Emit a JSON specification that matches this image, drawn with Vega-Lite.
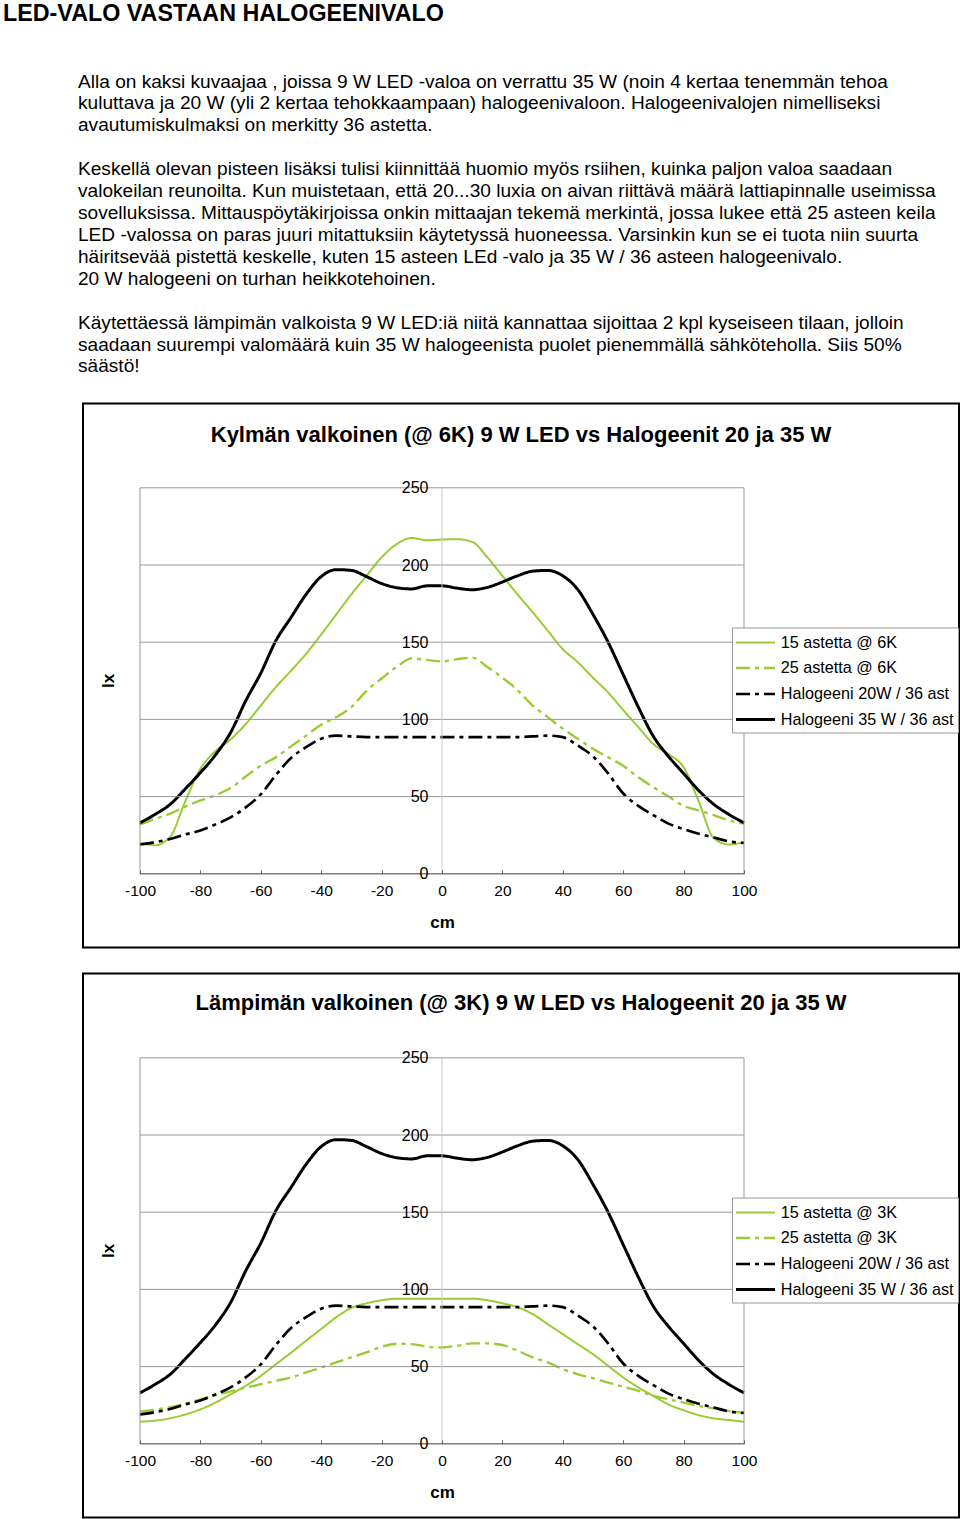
{
  "$schema": "https://vega.github.io/schema/vega-lite/v6.json",
  "padding": {"left": 3, "top": 1.5, "right": 0, "bottom": 0},
  "background": "white",
  "config": {"font": "Liberation Sans", "view": {"stroke": null}},
  "datasets": {
    "c1": [
      {"x": -100, "15 astetta @ 6K": 20, "25 astetta @ 6K": 32, "Halogeeni 20W / 36 ast": 19, "Halogeeni 35 W / 36 ast": 33},
      {"x": -95, "15 astetta @ 6K": 18.5, "25 astetta @ 6K": 35.5, "Halogeeni 20W / 36 ast": 20.5, "Halogeeni 35 W / 36 ast": 38.5},
      {"x": -90, "15 astetta @ 6K": 24, "25 astetta @ 6K": 39, "Halogeeni 20W / 36 ast": 22.5, "Halogeeni 35 W / 36 ast": 45},
      {"x": -85, "15 astetta @ 6K": 47, "25 astetta @ 6K": 43.5, "Halogeeni 20W / 36 ast": 25.5, "Halogeeni 35 W / 36 ast": 55},
      {"x": -80, "15 astetta @ 6K": 68, "25 astetta @ 6K": 47.5, "Halogeeni 20W / 36 ast": 28, "Halogeeni 35 W / 36 ast": 65.5},
      {"x": -75, "15 astetta @ 6K": 79.5, "25 astetta @ 6K": 51, "Halogeeni 20W / 36 ast": 32, "Halogeeni 35 W / 36 ast": 77},
      {"x": -70, "15 astetta @ 6K": 87, "25 astetta @ 6K": 55.5, "Halogeeni 20W / 36 ast": 36.5, "Halogeeni 35 W / 36 ast": 91.5},
      {"x": -65, "15 astetta @ 6K": 97, "25 astetta @ 6K": 63, "Halogeeni 20W / 36 ast": 43, "Halogeeni 35 W / 36 ast": 112},
      {"x": -60, "15 astetta @ 6K": 109, "25 astetta @ 6K": 70, "Halogeeni 20W / 36 ast": 51.5, "Halogeeni 35 W / 36 ast": 130},
      {"x": -55, "15 astetta @ 6K": 121, "25 astetta @ 6K": 75.5, "Halogeeni 20W / 36 ast": 64, "Halogeeni 35 W / 36 ast": 151},
      {"x": -50, "15 astetta @ 6K": 131.5, "25 astetta @ 6K": 82.5, "Halogeeni 20W / 36 ast": 75, "Halogeeni 35 W / 36 ast": 166},
      {"x": -45, "15 astetta @ 6K": 142.5, "25 astetta @ 6K": 89.5, "Halogeeni 20W / 36 ast": 82, "Halogeeni 35 W / 36 ast": 181},
      {"x": -40, "15 astetta @ 6K": 155, "25 astetta @ 6K": 96.5, "Halogeeni 20W / 36 ast": 87.5, "Halogeeni 35 W / 36 ast": 192.5},
      {"x": -35, "15 astetta @ 6K": 168, "25 astetta @ 6K": 101.5, "Halogeeni 20W / 36 ast": 89.5, "Halogeeni 35 W / 36 ast": 197},
      {"x": -30, "15 astetta @ 6K": 181, "25 astetta @ 6K": 108, "Halogeeni 20W / 36 ast": 89, "Halogeeni 35 W / 36 ast": 196.5},
      {"x": -25, "15 astetta @ 6K": 193, "25 astetta @ 6K": 118.5, "Halogeeni 20W / 36 ast": 88.5, "Halogeeni 35 W / 36 ast": 192.5},
      {"x": -20, "15 astetta @ 6K": 205, "25 astetta @ 6K": 126.5, "Halogeeni 20W / 36 ast": 88.5, "Halogeeni 35 W / 36 ast": 188},
      {"x": -15, "15 astetta @ 6K": 213.5, "25 astetta @ 6K": 134, "Halogeeni 20W / 36 ast": 88.5, "Halogeeni 35 W / 36 ast": 185.3},
      {"x": -10, "15 astetta @ 6K": 217.5, "25 astetta @ 6K": 139.5, "Halogeeni 20W / 36 ast": 88.5, "Halogeeni 35 W / 36 ast": 184.5},
      {"x": -5, "15 astetta @ 6K": 216, "25 astetta @ 6K": 138.5, "Halogeeni 20W / 36 ast": 88.5, "Halogeeni 35 W / 36 ast": 186.5},
      {"x": 0, "15 astetta @ 6K": 216.5, "25 astetta @ 6K": 137.5, "Halogeeni 20W / 36 ast": 88.5, "Halogeeni 35 W / 36 ast": 186.5},
      {"x": 5, "15 astetta @ 6K": 216.7, "25 astetta @ 6K": 139, "Halogeeni 20W / 36 ast": 88.5, "Halogeeni 35 W / 36 ast": 185},
      {"x": 10, "15 astetta @ 6K": 215, "25 astetta @ 6K": 140, "Halogeeni 20W / 36 ast": 88.5, "Halogeeni 35 W / 36 ast": 184},
      {"x": 15, "15 astetta @ 6K": 205, "25 astetta @ 6K": 134, "Halogeeni 20W / 36 ast": 88.5, "Halogeeni 35 W / 36 ast": 185.5},
      {"x": 20, "15 astetta @ 6K": 193, "25 astetta @ 6K": 127, "Halogeeni 20W / 36 ast": 88.5, "Halogeeni 35 W / 36 ast": 189},
      {"x": 25, "15 astetta @ 6K": 181, "25 astetta @ 6K": 119, "Halogeeni 20W / 36 ast": 88.5, "Halogeeni 35 W / 36 ast": 193},
      {"x": 30, "15 astetta @ 6K": 169.5, "25 astetta @ 6K": 109, "Halogeeni 20W / 36 ast": 89, "Halogeeni 35 W / 36 ast": 196},
      {"x": 35, "15 astetta @ 6K": 157.5, "25 astetta @ 6K": 101.5, "Halogeeni 20W / 36 ast": 89.5, "Halogeeni 35 W / 36 ast": 196.5},
      {"x": 40, "15 astetta @ 6K": 145.5, "25 astetta @ 6K": 94, "Halogeeni 20W / 36 ast": 88.5, "Halogeeni 35 W / 36 ast": 193},
      {"x": 45, "15 astetta @ 6K": 137, "25 astetta @ 6K": 87.5, "Halogeeni 20W / 36 ast": 83, "Halogeeni 35 W / 36 ast": 184},
      {"x": 50, "15 astetta @ 6K": 127, "25 astetta @ 6K": 81, "Halogeeni 20W / 36 ast": 76, "Halogeeni 35 W / 36 ast": 168},
      {"x": 55, "15 astetta @ 6K": 117.5, "25 astetta @ 6K": 75.5, "Halogeeni 20W / 36 ast": 65, "Halogeeni 35 W / 36 ast": 150},
      {"x": 60, "15 astetta @ 6K": 106, "25 astetta @ 6K": 70, "Halogeeni 20W / 36 ast": 52, "Halogeeni 35 W / 36 ast": 129},
      {"x": 65, "15 astetta @ 6K": 95, "25 astetta @ 6K": 62.5, "Halogeeni 20W / 36 ast": 44, "Halogeeni 35 W / 36 ast": 108},
      {"x": 70, "15 astetta @ 6K": 84, "25 astetta @ 6K": 56, "Halogeeni 20W / 36 ast": 38, "Halogeeni 35 W / 36 ast": 89},
      {"x": 75, "15 astetta @ 6K": 77.5, "25 astetta @ 6K": 50, "Halogeeni 20W / 36 ast": 32.5, "Halogeeni 35 W / 36 ast": 76},
      {"x": 80, "15 astetta @ 6K": 69, "25 astetta @ 6K": 44, "Halogeeni 20W / 36 ast": 29, "Halogeeni 35 W / 36 ast": 65},
      {"x": 85, "15 astetta @ 6K": 47, "25 astetta @ 6K": 41, "Halogeeni 20W / 36 ast": 26, "Halogeeni 35 W / 36 ast": 54},
      {"x": 90, "15 astetta @ 6K": 23, "25 astetta @ 6K": 38, "Halogeeni 20W / 36 ast": 23.5, "Halogeeni 35 W / 36 ast": 45},
      {"x": 95, "15 astetta @ 6K": 19, "25 astetta @ 6K": 34.5, "Halogeeni 20W / 36 ast": 21, "Halogeeni 35 W / 36 ast": 38.5},
      {"x": 100, "15 astetta @ 6K": 20.5, "25 astetta @ 6K": 32.5, "Halogeeni 20W / 36 ast": 20, "Halogeeni 35 W / 36 ast": 33}
    ],
    "c2": [
      {"x": -100, "15 astetta @ 3K": 14.3, "25 astetta @ 3K": 20.8, "Halogeeni 20W / 36 ast": 19, "Halogeeni 35 W / 36 ast": 33},
      {"x": -95, "15 astetta @ 3K": 15, "25 astetta @ 3K": 22, "Halogeeni 20W / 36 ast": 20.5, "Halogeeni 35 W / 36 ast": 38.5},
      {"x": -90, "15 astetta @ 3K": 16.5, "25 astetta @ 3K": 23.8, "Halogeeni 20W / 36 ast": 22.5, "Halogeeni 35 W / 36 ast": 45},
      {"x": -85, "15 astetta @ 3K": 19, "25 astetta @ 3K": 26, "Halogeeni 20W / 36 ast": 25.5, "Halogeeni 35 W / 36 ast": 55},
      {"x": -80, "15 astetta @ 3K": 22.3, "25 astetta @ 3K": 28.8, "Halogeeni 20W / 36 ast": 28, "Halogeeni 35 W / 36 ast": 65.5},
      {"x": -75, "15 astetta @ 3K": 26.7, "25 astetta @ 3K": 31.4, "Halogeeni 20W / 36 ast": 32, "Halogeeni 35 W / 36 ast": 77},
      {"x": -70, "15 astetta @ 3K": 32, "25 astetta @ 3K": 34, "Halogeeni 20W / 36 ast": 36.5, "Halogeeni 35 W / 36 ast": 91.5},
      {"x": -65, "15 astetta @ 3K": 37.5, "25 astetta @ 3K": 36.4, "Halogeeni 20W / 36 ast": 43, "Halogeeni 35 W / 36 ast": 112},
      {"x": -60, "15 astetta @ 3K": 44, "25 astetta @ 3K": 38.6, "Halogeeni 20W / 36 ast": 51.5, "Halogeeni 35 W / 36 ast": 130},
      {"x": -55, "15 astetta @ 3K": 51.5, "25 astetta @ 3K": 40.8, "Halogeeni 20W / 36 ast": 64, "Halogeeni 35 W / 36 ast": 151},
      {"x": -50, "15 astetta @ 3K": 59, "25 astetta @ 3K": 43, "Halogeeni 20W / 36 ast": 75, "Halogeeni 35 W / 36 ast": 166},
      {"x": -45, "15 astetta @ 3K": 66.8, "25 astetta @ 3K": 46.2, "Halogeeni 20W / 36 ast": 82, "Halogeeni 35 W / 36 ast": 181},
      {"x": -40, "15 astetta @ 3K": 74.4, "25 astetta @ 3K": 49.4, "Halogeeni 20W / 36 ast": 87.5, "Halogeeni 35 W / 36 ast": 192.5},
      {"x": -35, "15 astetta @ 3K": 82, "25 astetta @ 3K": 52.7, "Halogeeni 20W / 36 ast": 89.5, "Halogeeni 35 W / 36 ast": 197},
      {"x": -30, "15 astetta @ 3K": 88, "25 astetta @ 3K": 56, "Halogeeni 20W / 36 ast": 89, "Halogeeni 35 W / 36 ast": 196.5},
      {"x": -25, "15 astetta @ 3K": 91, "25 astetta @ 3K": 59.2, "Halogeeni 20W / 36 ast": 88.5, "Halogeeni 35 W / 36 ast": 192.5},
      {"x": -20, "15 astetta @ 3K": 93, "25 astetta @ 3K": 62.9, "Halogeeni 20W / 36 ast": 88.5, "Halogeeni 35 W / 36 ast": 188},
      {"x": -15, "15 astetta @ 3K": 94, "25 astetta @ 3K": 64.8, "Halogeeni 20W / 36 ast": 88.5, "Halogeeni 35 W / 36 ast": 185.3},
      {"x": -10, "15 astetta @ 3K": 94, "25 astetta @ 3K": 64.6, "Halogeeni 20W / 36 ast": 88.5, "Halogeeni 35 W / 36 ast": 184.5},
      {"x": -5, "15 astetta @ 3K": 94, "25 astetta @ 3K": 63, "Halogeeni 20W / 36 ast": 88.5, "Halogeeni 35 W / 36 ast": 186.5},
      {"x": 0, "15 astetta @ 3K": 94, "25 astetta @ 3K": 62.4, "Halogeeni 20W / 36 ast": 88.5, "Halogeeni 35 W / 36 ast": 186.5},
      {"x": 5, "15 astetta @ 3K": 94, "25 astetta @ 3K": 63.5, "Halogeeni 20W / 36 ast": 88.5, "Halogeeni 35 W / 36 ast": 185},
      {"x": 10, "15 astetta @ 3K": 94, "25 astetta @ 3K": 65, "Halogeeni 20W / 36 ast": 88.5, "Halogeeni 35 W / 36 ast": 184},
      {"x": 15, "15 astetta @ 3K": 93, "25 astetta @ 3K": 65, "Halogeeni 20W / 36 ast": 88.5, "Halogeeni 35 W / 36 ast": 185.5},
      {"x": 20, "15 astetta @ 3K": 91, "25 astetta @ 3K": 64, "Halogeeni 20W / 36 ast": 88.5, "Halogeeni 35 W / 36 ast": 189},
      {"x": 25, "15 astetta @ 3K": 88.5, "25 astetta @ 3K": 60.3, "Halogeeni 20W / 36 ast": 88.5, "Halogeeni 35 W / 36 ast": 193},
      {"x": 30, "15 astetta @ 3K": 84, "25 astetta @ 3K": 56, "Halogeeni 20W / 36 ast": 89, "Halogeeni 35 W / 36 ast": 196},
      {"x": 35, "15 astetta @ 3K": 77.5, "25 astetta @ 3K": 52.7, "Halogeeni 20W / 36 ast": 89.5, "Halogeeni 35 W / 36 ast": 196.5},
      {"x": 40, "15 astetta @ 3K": 71, "25 astetta @ 3K": 48.4, "Halogeeni 20W / 36 ast": 88.5, "Halogeeni 35 W / 36 ast": 193},
      {"x": 45, "15 astetta @ 3K": 64.5, "25 astetta @ 3K": 45, "Halogeeni 20W / 36 ast": 83, "Halogeeni 35 W / 36 ast": 184},
      {"x": 50, "15 astetta @ 3K": 58, "25 astetta @ 3K": 42.5, "Halogeeni 20W / 36 ast": 76, "Halogeeni 35 W / 36 ast": 168},
      {"x": 55, "15 astetta @ 3K": 50.5, "25 astetta @ 3K": 39.7, "Halogeeni 20W / 36 ast": 65, "Halogeeni 35 W / 36 ast": 150},
      {"x": 60, "15 astetta @ 3K": 43, "25 astetta @ 3K": 36.9, "Halogeeni 20W / 36 ast": 52, "Halogeeni 35 W / 36 ast": 129},
      {"x": 65, "15 astetta @ 3K": 36.5, "25 astetta @ 3K": 34.3, "Halogeeni 20W / 36 ast": 44, "Halogeeni 35 W / 36 ast": 108},
      {"x": 70, "15 astetta @ 3K": 31, "25 astetta @ 3K": 31, "Halogeeni 20W / 36 ast": 38, "Halogeeni 35 W / 36 ast": 89},
      {"x": 75, "15 astetta @ 3K": 25.5, "25 astetta @ 3K": 28.8, "Halogeeni 20W / 36 ast": 32.5, "Halogeeni 35 W / 36 ast": 76},
      {"x": 80, "15 astetta @ 3K": 21.7, "25 astetta @ 3K": 26.7, "Halogeeni 20W / 36 ast": 29, "Halogeeni 35 W / 36 ast": 65},
      {"x": 85, "15 astetta @ 3K": 18.6, "25 astetta @ 3K": 24.5, "Halogeeni 20W / 36 ast": 26, "Halogeeni 35 W / 36 ast": 54},
      {"x": 90, "15 astetta @ 3K": 16.5, "25 astetta @ 3K": 23, "Halogeeni 20W / 36 ast": 23.5, "Halogeeni 35 W / 36 ast": 45},
      {"x": 95, "15 astetta @ 3K": 15.4, "25 astetta @ 3K": 21.2, "Halogeeni 20W / 36 ast": 21, "Halogeeni 35 W / 36 ast": 38.5},
      {"x": 100, "15 astetta @ 3K": 14.3, "25 astetta @ 3K": 20, "Halogeeni 20W / 36 ast": 20, "Halogeeni 35 W / 36 ast": 33}
    ]
  },
  "bounds": "flush",
  "spacing": 26,
  "resolve": {
    "scale": {"x": "independent", "y": "independent", "color": "independent", "strokeDash": "independent", "strokeWidth": "independent"},
    "axis": {"x": "independent", "y": "independent"},
    "legend": {"color": "independent", "strokeDash": "independent", "strokeWidth": "independent"}
  },
  "vconcat": [
    {
      "width": 876,
      "height": 296,
      "title": {"text": "LED-VALO VASTAAN HALOGEENIVALO", "anchor": "start", "frame": "group", "dx": -80, "offset": 35, "baseline": "middle", "fontSize": 23.3, "fontWeight": "bold", "font": "Liberation Sans", "color": "#000000"},
      "data": {"values": [
        {"n": 0, "t": "Alla on kaksi kuvaajaa , joissa 9 W LED -valoa on verrattu 35 W (noin 4 kertaa tenemmän tehoa"},
        {"n": 1, "t": "kuluttava ja 20 W (yli 2 kertaa tehokkaampaan) halogeenivaloon. Halogeenivalojen nimelliseksi"},
        {"n": 2, "t": "avautumiskulmaksi on merkitty 36 astetta."},
        {"n": 4, "t": "Keskellä olevan pisteen lisäksi tulisi kiinnittää huomio myös rsiihen, kuinka paljon valoa saadaan"},
        {"n": 5, "t": "valokeilan reunoilta. Kun muistetaan, että 20...30 luxia on aivan riittävä määrä lattiapinnalle useimissa"},
        {"n": 6, "t": "sovelluksissa. Mittauspöytäkirjoissa onkin mittaajan tekemä merkintä, jossa lukee että 25 asteen keila"},
        {"n": 7, "t": "LED -valossa on paras juuri mitattuksiin käytetyssä huoneessa. Varsinkin kun se ei tuota niin suurta"},
        {"n": 8, "t": "häiritsevää pistettä keskelle, kuten 15 asteen LEd -valo ja 35 W / 36 asteen halogeenivalo."},
        {"n": 9, "t": "20 W halogeeni on turhan heikkotehoinen."},
        {"n": 11, "t": "Käytettäessä lämpimän valkoista 9 W LED:iä niitä kannattaa sijoittaa 2 kpl kyseiseen tilaan, jolloin"},
        {"n": 12, "t": "saadaan suurempi valomäärä kuin 35 W halogeenista puolet pienemmällä sähköteholla. Siis 50%"},
        {"n": 13, "t": "säästö!"}
      ]},
      "mark": {"type": "text", "align": "left", "baseline": "middle", "fontSize": 19.1, "font": "Liberation Sans", "color": "#000000", "dx": -5},
      "encoding": {
        "x": {"datum": 0, "type": "quantitative", "scale": {"domain": [0, 1], "nice": false, "zero": false}, "axis": null},
        "y": {"field": "n", "type": "quantitative", "scale": {"domain": [0, 13.502], "reverse": true, "nice": false, "zero": false}, "axis": null},
        "text": {"field": "t", "type": "nominal"}
      }
    },
    {
      "width": 876,
      "height": 544,
      "view": {"stroke": "#000000", "strokeWidth": 2, "fill": "white"},
      "title": {"text": "Kylmän valkoinen (@ 6K) 9 W LED vs Halogeenit 20 ja 35 W", "anchor": "middle", "frame": "group", "offset": -53, "baseline": "middle", "fontSize": 22, "fontWeight": "bold", "font": "Liberation Sans", "color": "#000000"},
      "layer": [
        {
          "data": {"name": "c1"},
          "transform": [{"fold": ["15 astetta @ 6K", "25 astetta @ 6K", "Halogeeni 20W / 36 ast", "Halogeeni 35 W / 36 ast"], "as": ["sarja", "lx"]}],
          "mark": {"type": "line", "interpolate": "monotone", "strokeCap": "butt"},
          "encoding": {
            "x": {"field": "x", "type": "quantitative", "scale": {"domain": [-118.87, 171.19], "nice": false, "zero": false},
              "axis": {"orient": "bottom", "offset": -73.7, "values": [-100, -80, -60, -40, -20, 0, 20, 40, 60, 80, 100], "labelExpr": "'' + datum.value", "domain": false, "grid": false, "ticks": true, "tickSize": -4, "tickColor": "#666666", "labelPadding": 14, "labelFontSize": 15.5, "labelFont": "Liberation Sans", "labelColor": "#000000", "labelFlush": false, "labelOverlap": false, "zindex": 1,
                "title": "cm", "titleFontSize": 17, "titleFontWeight": "bold", "titleFont": "Liberation Sans", "titleColor": "#000000", "titleX": 359, "titleY": 49, "titleBaseline": "middle", "titleAlign": "center"}},
            "y": {"field": "lx", "type": "quantitative", "scale": {"domain": [-47.73, 304.6], "nice": false, "zero": false},
              "axis": {"orient": "left", "offset": -359, "values": [0, 50, 100, 150, 200, 250], "domain": false, "grid": false, "ticks": false, "labelPadding": 14, "labelFontSize": 16, "labelFont": "Liberation Sans", "labelColor": "#000000", "labelFlush": false, "labelOverlap": false, "labelBaseline": "middle", "zindex": 1,
                "title": "lx", "titleFontSize": 17, "titleFontWeight": "bold", "titleFont": "Liberation Sans", "titleColor": "#000000", "titleX": -334, "titleY": 277, "titleAngle": -90, "titleBaseline": "middle", "titleAlign": "center"}},
            "color": {"field": "sarja", "type": "nominal",
              "scale": {"domain": ["15 astetta @ 6K", "25 astetta @ 6K", "Halogeeni 20W / 36 ast", "Halogeeni 35 W / 36 ast"], "range": ["#99CC33", "#99CC33", "#000000", "#000000"]},
              "legend": {"orient": "none", "legendX": 649, "legendY": 224, "title": null, "strokeColor": "#999999", "fillColor": "white", "padding": 4, "labelFontSize": 16.2, "labelFont": "Liberation Sans", "labelColor": "#000000", "labelLimit": 300, "labelOffset": 13.75, "symbolOffset": 8, "symbolType": "M-2,0L2,0", "symbolSize": 380.25, "rowPadding": 5.5}},
            "strokeDash": {"field": "sarja", "type": "nominal",
              "scale": {"domain": ["15 astetta @ 6K", "25 astetta @ 6K", "Halogeeni 20W / 36 ast", "Halogeeni 35 W / 36 ast"], "range": [[1, 0], [14, 5, 4, 5], [14, 5, 4, 5], [1, 0]]}},
            "strokeWidth": {"field": "sarja", "type": "nominal",
              "scale": {"domain": ["15 astetta @ 6K", "25 astetta @ 6K", "Halogeeni 20W / 36 ast", "Halogeeni 35 W / 36 ast"], "range": [2, 3, 3, 2]}}
          }
        },
        {
          "data": {"values": [{"a": 1}]},
          "mark": {"type": "rect", "fill": null, "stroke": "#999999", "strokeWidth": 1},
          "encoding": {
            "x": {"datum": -100, "type": "quantitative"}, "x2": {"datum": 100},
            "y": {"datum": 0, "type": "quantitative"}, "y2": {"datum": 250}
          }
        },
        {
          "data": {"values": [{"g": 50}, {"g": 100}, {"g": 150}, {"g": 200}]},
          "mark": {"type": "rule", "color": "#999999", "strokeWidth": 1},
          "encoding": {
            "y": {"field": "g", "type": "quantitative"},
            "x": {"datum": -100, "type": "quantitative"}, "x2": {"datum": 100}
          }
        },
        {
          "data": {"values": [{"a": 1}]},
          "mark": {"type": "rule", "color": "#c8c8c8", "strokeWidth": 1},
          "encoding": {
            "x": {"datum": 0, "type": "quantitative"},
            "y": {"datum": 0, "type": "quantitative"}, "y2": {"datum": 250}
          }
        },
        {
          "data": {"values": [{"a": 1}]},
          "mark": {"type": "rule", "color": "#666666", "strokeWidth": 1},
          "encoding": {
            "y": {"datum": 0, "type": "quantitative"},
            "x": {"datum": -100, "type": "quantitative"}, "x2": {"datum": 100}
          }
        }
      ]
    },
    {
      "width": 876,
      "height": 544,
      "view": {"stroke": "#000000", "strokeWidth": 2, "fill": "white"},
      "title": {"text": "Lämpimän valkoinen (@ 3K) 9 W LED vs Halogeenit 20 ja 35 W", "anchor": "middle", "frame": "group", "offset": -51, "baseline": "middle", "fontSize": 22, "fontWeight": "bold", "font": "Liberation Sans", "color": "#000000"},
      "layer": [
        {
          "data": {"name": "c2"},
          "transform": [{"fold": ["15 astetta @ 3K", "25 astetta @ 3K", "Halogeeni 20W / 36 ast", "Halogeeni 35 W / 36 ast"], "as": ["sarja", "lx"]}],
          "mark": {"type": "line", "interpolate": "monotone", "strokeCap": "butt"},
          "encoding": {
            "x": {"field": "x", "type": "quantitative", "scale": {"domain": [-118.87, 171.19], "nice": false, "zero": false},
              "axis": {"orient": "bottom", "offset": -73.7, "values": [-100, -80, -60, -40, -20, 0, 20, 40, 60, 80, 100], "labelExpr": "'' + datum.value", "domain": false, "grid": false, "ticks": true, "tickSize": -4, "tickColor": "#666666", "labelPadding": 14, "labelFontSize": 15.5, "labelFont": "Liberation Sans", "labelColor": "#000000", "labelFlush": false, "labelOverlap": false, "zindex": 1,
                "title": "cm", "titleFontSize": 17, "titleFontWeight": "bold", "titleFont": "Liberation Sans", "titleColor": "#000000", "titleX": 359, "titleY": 49, "titleBaseline": "middle", "titleAlign": "center"}},
            "y": {"field": "lx", "type": "quantitative", "scale": {"domain": [-47.73, 304.6], "nice": false, "zero": false},
              "axis": {"orient": "left", "offset": -359, "values": [0, 50, 100, 150, 200, 250], "domain": false, "grid": false, "ticks": false, "labelPadding": 14, "labelFontSize": 16, "labelFont": "Liberation Sans", "labelColor": "#000000", "labelFlush": false, "labelOverlap": false, "labelBaseline": "middle", "zindex": 1,
                "title": "lx", "titleFontSize": 17, "titleFontWeight": "bold", "titleFont": "Liberation Sans", "titleColor": "#000000", "titleX": -334, "titleY": 277, "titleAngle": -90, "titleBaseline": "middle", "titleAlign": "center"}},
            "color": {"field": "sarja", "type": "nominal",
              "scale": {"domain": ["15 astetta @ 3K", "25 astetta @ 3K", "Halogeeni 20W / 36 ast", "Halogeeni 35 W / 36 ast"], "range": ["#99CC33", "#99CC33", "#000000", "#000000"]},
              "legend": {"orient": "none", "legendX": 649, "legendY": 224, "title": null, "strokeColor": "#999999", "fillColor": "white", "padding": 4, "labelFontSize": 16.2, "labelFont": "Liberation Sans", "labelColor": "#000000", "labelLimit": 300, "labelOffset": 13.75, "symbolOffset": 8, "symbolType": "M-2,0L2,0", "symbolSize": 380.25, "rowPadding": 5.5}},
            "strokeDash": {"field": "sarja", "type": "nominal",
              "scale": {"domain": ["15 astetta @ 3K", "25 astetta @ 3K", "Halogeeni 20W / 36 ast", "Halogeeni 35 W / 36 ast"], "range": [[1, 0], [14, 5, 4, 5], [14, 5, 4, 5], [1, 0]]}},
            "strokeWidth": {"field": "sarja", "type": "nominal",
              "scale": {"domain": ["15 astetta @ 3K", "25 astetta @ 3K", "Halogeeni 20W / 36 ast", "Halogeeni 35 W / 36 ast"], "range": [2, 3, 3, 2]}}
          }
        },
        {
          "data": {"values": [{"a": 1}]},
          "mark": {"type": "rect", "fill": null, "stroke": "#999999", "strokeWidth": 1},
          "encoding": {
            "x": {"datum": -100, "type": "quantitative"}, "x2": {"datum": 100},
            "y": {"datum": 0, "type": "quantitative"}, "y2": {"datum": 250}
          }
        },
        {
          "data": {"values": [{"g": 50}, {"g": 100}, {"g": 150}, {"g": 200}]},
          "mark": {"type": "rule", "color": "#999999", "strokeWidth": 1},
          "encoding": {
            "y": {"field": "g", "type": "quantitative"},
            "x": {"datum": -100, "type": "quantitative"}, "x2": {"datum": 100}
          }
        },
        {
          "data": {"values": [{"a": 1}]},
          "mark": {"type": "rule", "color": "#c8c8c8", "strokeWidth": 1},
          "encoding": {
            "x": {"datum": 0, "type": "quantitative"},
            "y": {"datum": 0, "type": "quantitative"}, "y2": {"datum": 250}
          }
        },
        {
          "data": {"values": [{"a": 1}]},
          "mark": {"type": "rule", "color": "#666666", "strokeWidth": 1},
          "encoding": {
            "y": {"datum": 0, "type": "quantitative"},
            "x": {"datum": -100, "type": "quantitative"}, "x2": {"datum": 100}
          }
        }
      ]
    }
  ]
}
